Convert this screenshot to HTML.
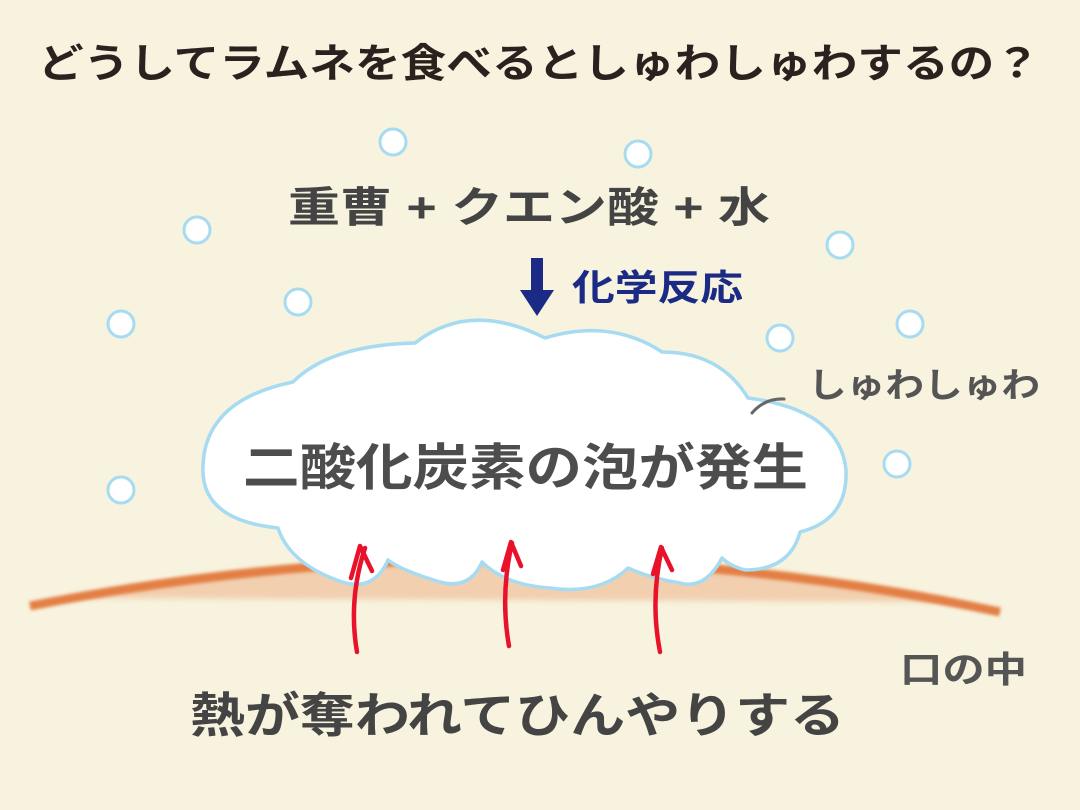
<!DOCTYPE html>
<html><head><meta charset="utf-8"><style>
html,body{margin:0;padding:0;background:#f7f3de;}
svg{display:block;}
text{font-family:"Liberation Sans","Noto Sans CJK JP",sans-serif;font-weight:bold;}
</style></head><body>
<svg width="1080" height="810" viewBox="0 0 1080 810" xmlns="http://www.w3.org/2000/svg">
<defs>
<filter id="bl" x="-5%" y="-50%" width="110%" height="200%"><feGaussianBlur stdDeviation="1.6"/></filter>
<filter id="bl2" x="-5%" y="-50%" width="110%" height="200%"><feGaussianBlur stdDeviation="3"/></filter>
</defs>
<rect width="1080" height="810" fill="#f7f3de"/>
<text x="38" y="77" font-size="40" fill="#2b2220" textLength="1002" lengthAdjust="spacingAndGlyphs">どうしてラムネを食べるとしゅわしゅわするの？</text>

<g fill="#ffffff" stroke="#a6dbf2" stroke-width="3">
<circle cx="393" cy="142" r="13"/><circle cx="638" cy="154" r="13"/>
<circle cx="197" cy="230" r="13"/><circle cx="840" cy="245" r="13"/>
<circle cx="298" cy="302" r="13"/><circle cx="121" cy="324" r="13"/>
<circle cx="780" cy="338" r="13"/><circle cx="910" cy="324" r="13"/>
<circle cx="897" cy="464" r="13"/><circle cx="121" cy="490" r="13"/>
</g>

<text x="288" y="222" font-size="42" fill="#444" textLength="482" lengthAdjust="spacingAndGlyphs">重曹 + クエン酸 + 水</text>
<path d="M531 258 h12 v32 h11 l-17 26 l-17 -26 h11 z" fill="#1b2a85"/>
<text x="572" y="300" font-size="36" fill="#1b2a85" textLength="171" lengthAdjust="spacingAndGlyphs">化学反応</text>

<!-- tongue -->
<path d="M70 598 Q 520 512 960 602 Z" fill="#f2cfae" filter="url(#bl2)"/>
<path d="M30 606 Q 520 510 1000 612" fill="none" stroke="#e37f45" stroke-width="9" filter="url(#bl)"/>

<!-- cloud -->
<path d="M293 382 Q 330 345 415 343 Q 470 300 545 338 Q 610 318 662 352 Q 720 352 748 398 Q 840 410 846 470 Q 848 520 800 532 Q 790 570 745 570 Q 730 566 722 558 Q 705 590 680 583 Q 650 578 628 568 Q 600 595 550 588 Q 505 585 482 562 Q 470 590 440 582 Q 400 570 388 560 Q 375 590 345 583 Q 290 565 278 528 Q 200 520 203 466 Q 205 400 293 382 Z" fill="#ffffff" stroke="#a6dbf2" stroke-width="3.5" stroke-linejoin="round"/>
<text x="243" y="485" font-size="50" fill="#4d4d4d" textLength="565" lengthAdjust="spacingAndGlyphs">二酸化炭素の泡が発生</text>

<path d="M752 413 Q 765 398 784 399" fill="none" stroke="#666" stroke-width="3" stroke-linecap="round"/>
<text x="808" y="397" font-size="34" fill="#555" textLength="232" lengthAdjust="spacingAndGlyphs">しゅわしゅわ</text>

<!-- red arrows -->
<g fill="none" stroke="#e8132b" stroke-width="4.5" stroke-linecap="round" stroke-linejoin="round">
<path d="M357 652 Q 348 600 365 548 M351 578 L 360 546 L 372 571"/>
<path d="M509 646 Q 500 595 512 543 M503 570 L 511 542 L 521 566"/>
<path d="M660 652 Q 650 600 662 548 M653 574 L 661 547 L 672 570"/>
</g>

<text x="900" y="682" font-size="36" fill="#555" textLength="127" lengthAdjust="spacingAndGlyphs">口の中</text>
<text x="190" y="732" font-size="48" fill="#444" textLength="655" lengthAdjust="spacingAndGlyphs">熱が奪われてひんやりする</text>
</svg>
</body></html>
